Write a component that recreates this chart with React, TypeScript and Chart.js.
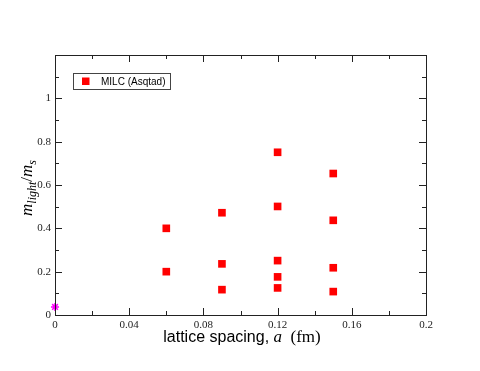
import React, { useEffect, useRef } from "react";
import { Chart, registerables } from "chart.js";

Chart.register(...registerables);

// ---- data ----
const latticeSpacing = [0.06, 0.06, 0.09, 0.09, 0.09, 0.12, 0.12, 0.12, 0.12, 0.12, 0.15, 0.15, 0.15, 0.15];
const mLightOverMs = [0.40, 0.20, 0.472, 0.236, 0.117, 0.751, 0.501, 0.251, 0.176, 0.125, 0.653, 0.437, 0.218, 0.108];
const physicalX = [0];
const physicalY = [0.037];
const seriesLabel = "MILC (Asqtad)";
const xTickLabels = ["0", "0.04", "0.08", "0.12", "0.16", "0.2"];
const yTickLabels = ["0", "0.2", "0.4", "0.6", "0.8", "1"];
const xMinorTicks = [0.02, 0.06, 0.1, 0.14, 0.18];
const yMinorTicks = [0.1, 0.3, 0.5, 0.7, 0.9, 1.1];

const W = 480;
const H = 371;

const framePlugin = {
  id: "frame",
  afterDraw(chart: any) {
    const { ctx, chartArea: a, scales } = chart;
    const xs = scales.x;
    const ys = scales.y;
    ctx.save();
    ctx.strokeStyle = "#222";
    ctx.lineWidth = 1;
    // frame
    ctx.strokeRect(Math.round(a.left) + 0.5, Math.round(a.top) + 0.5, Math.round(a.right - a.left), Math.round(a.bottom - a.top));
    const major = 7;
    const minor = 4;
    const tick = (v: number, len: number, isX: boolean) => {
      ctx.beginPath();
      if (isX) {
        const px = Math.round(xs.getPixelForValue(v)) + 0.5;
        ctx.moveTo(px, a.bottom); ctx.lineTo(px, a.bottom - len);
        ctx.moveTo(px, a.top); ctx.lineTo(px, a.top + len);
      } else {
        const py = Math.round(ys.getPixelForValue(v)) + 0.5;
        ctx.moveTo(a.left, py); ctx.lineTo(a.left + len, py);
        ctx.moveTo(a.right, py); ctx.lineTo(a.right - len, py);
      }
      ctx.stroke();
    };
    xTickLabels.forEach((t) => tick(parseFloat(t), major, true));
    xMinorTicks.forEach((v) => tick(v, minor, true));
    yTickLabels.forEach((t) => tick(parseFloat(t), major, false));
    yMinorTicks.forEach((v) => tick(v, minor, false));

    // legend
    const lx = 73, ly = 73, lw = 97, lh = 16;
    ctx.strokeStyle = "#444";
    ctx.strokeRect(lx + 0.5, ly + 0.5, lw, lh);
    ctx.fillStyle = "#ff0000";
    ctx.fillRect(82, 77.5, 7.5, 7.5);
    ctx.fillStyle = "#000";
    ctx.font = "10px 'Liberation Sans', Arial, sans-serif";
    ctx.textBaseline = "middle";
    ctx.textAlign = "left";
    ctx.fillText(chart.data.datasets[0].label, 101, 82);

    // x axis title
    const cy = 337;
    ctx.textBaseline = "alphabetic";
    const p1 = "lattice spacing, ";
    const p2 = "a";
    const p3 = "  (fm)";
    const f1 = "16px 'Liberation Sans', Arial, sans-serif";
    const f2 = "italic 17px 'Liberation Serif', 'Times New Roman', serif";
    const f3 = "17px 'Liberation Serif', 'Times New Roman', serif";
    ctx.font = f1; const w1 = ctx.measureText(p1).width;
    ctx.font = f2; const w2 = ctx.measureText(p2).width;
    ctx.font = f3; const w3 = ctx.measureText(p3).width;
    let x0 = 242 - (w1 + w2 + w3) / 2;
    ctx.font = f1; ctx.fillText(p1, x0, cy + 5); x0 += w1;
    ctx.font = f2; ctx.fillText(p2, x0, cy + 5); x0 += w2;
    ctx.font = f3; ctx.fillText(p3, x0, cy + 5);

    // y axis title: m_light / m_s
    ctx.translate(32, 188);
    ctx.rotate(-Math.PI / 2);
    const big = "italic 17px 'Liberation Serif', 'Times New Roman', serif";
    const small = "italic 12px 'Liberation Serif', 'Times New Roman', serif";
    const reg = "17px 'Liberation Serif', 'Times New Roman', serif";
    const parts: [string, string, number][] = [
      ["m", big, 0], ["light", small, 4], ["/", reg, 0], ["m", big, 0], ["s", small, 4],
    ];
    let total = 0;
    parts.forEach(([t, f]) => { ctx.font = f; total += ctx.measureText(t).width; });
    let px = -total / 2;
    parts.forEach(([t, f, dy]) => {
      ctx.font = f;
      ctx.fillText(t, px, dy);
      px += ctx.measureText(t).width;
    });
    ctx.restore();
  },
};

export default function App() {
  const ref = useRef<HTMLCanvasElement | null>(null);
  useEffect(() => {
    if (!ref.current) return;
    const chart = new Chart(ref.current, {
      type: "scatter",
      data: {
        datasets: [
          {
            label: seriesLabel,
            data: latticeSpacing.map((x, i) => ({ x, y: mLightOverMs[i] })),
            pointStyle: "rect",
            pointRadius: 5.4,
            borderWidth: 0,
            backgroundColor: "#ff0000",
            borderColor: "#ff0000",
          },
          {
            label: "physical",
            data: physicalX.map((x, i) => ({ x, y: physicalY[i] })),
            pointStyle: "star",
            pointRadius: 4,
            borderWidth: 1.5,
            borderColor: "#ff00ff",
            backgroundColor: "#ff00ff",
            clip: false,
          },
        ],
      },
      options: {
        responsive: false,
        animation: false,
        layout: { padding: { left: 0, right: 54, top: 55, bottom: 0 } },
        plugins: { legend: { display: false }, tooltip: { enabled: false } },
        scales: {
          x: {
            type: "linear",
            min: 0,
            max: 0.2,
            afterFit: (s: any) => { s.height = 56; },
            afterBuildTicks: (s: any) => { s.ticks = xTickLabels.map((t) => ({ value: parseFloat(t) })); },
            grid: { display: false, drawTicks: false },
            border: { display: false },
            ticks: {
              padding: 4,
              color: "#222",
              font: { family: "'Liberation Serif', 'Times New Roman', serif", size: 11 },
              callback: (v: any) => { const i = xTickLabels.findIndex((t) => Math.abs(parseFloat(t) - v) < 1e-9); return i >= 0 ? xTickLabels[i] : ""; },
              maxRotation: 0,
              autoSkip: false,
            },
          },
          y: {
            type: "linear",
            min: 0,
            max: 1.2,
            afterFit: (s: any) => { s.width = 55; },
            afterBuildTicks: (s: any) => { s.ticks = yTickLabels.map((t) => ({ value: parseFloat(t) })); },
            grid: { display: false, drawTicks: false },
            border: { display: false },
            ticks: {
              padding: 4,
              color: "#222",
              font: { family: "'Liberation Serif', 'Times New Roman', serif", size: 11 },
              callback: (v: any) => { const i = yTickLabels.findIndex((t) => Math.abs(parseFloat(t) - v) < 1e-9); return i >= 0 ? yTickLabels[i] : ""; },
              autoSkip: false,
            },
          },
        },
      },
      plugins: [framePlugin],
    });
    return () => chart.destroy();
  }, []);
  return (
    <div style={{ position: "fixed", left: 0, top: 0, width: W, height: H, background: "#fff" }}>
      <canvas ref={ref} width={W} height={H} style={{ width: W, height: H }} />
    </div>
  );
}
